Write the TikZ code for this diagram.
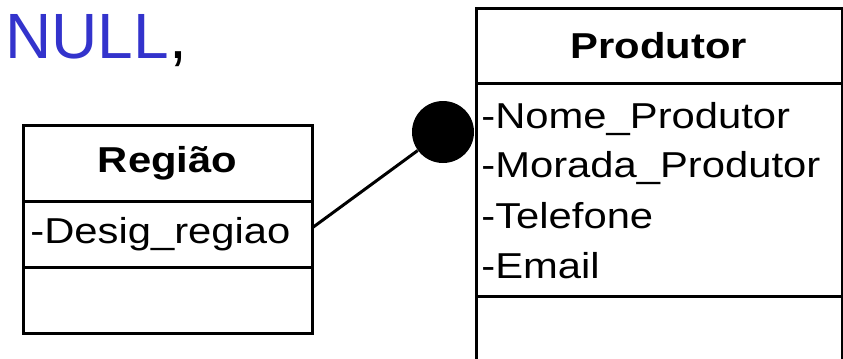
\documentclass[tikz,border=0pt]{standalone}
\usepackage{fontspec}
\setmainfont{Liberation Sans}
\newfontfamily\largafont[FakeStretch=1.16]{Liberation Sans}
\usepackage{xcolor}
\usetikzlibrary{positioning}
\definecolor{nullblue}{RGB}{51,51,204}

\begin{document}
\begin{tikzpicture}[x=0.5pt, y=-0.5pt,
    classe/.style={rectangle, draw=black, line width=1.5pt, outer sep=0pt,
      inner sep=0pt, font=\largafont\fontsize{18}{22}\selectfont\bfseries},
    compart/.style={rectangle, draw=black, line width=1.5pt, outer sep=0pt,
      inner sep=0pt},
    attr/.style={anchor=base west, inner sep=0pt,
      font=\largafont\fontsize{18}{22}\selectfont},
    line/.style={-, line width=1.5pt}
    ]
    \useasboundingbox (0,0) rectangle (843,359);

    % Texto
    \node[anchor=base west, inner sep=0pt, font=\fontsize{32}{36}\selectfont]
    (null) at (5,58) {\textcolor{nullblue}{NULL},};

    % Classe Regiao
    \node[classe, minimum width=144.5pt, minimum height=38pt] (Regiao)
    at (167.5,163) {Região};
    \node[compart, minimum width=144.5pt, minimum height=33pt,
      below=0pt of Regiao] (RegiaoAttr) {};
    \node[compart, minimum width=144.5pt, minimum height=33pt,
      below=0pt of RegiaoAttr] (RegiaoOps) {};

    \node[attr] (desig) at (30,243) {-Desig\_regiao};

    % Classe Produtor
    \node[classe, minimum width=183pt, minimum height=37.5pt] (Produtor)
    at (659,45.5) {Produtor};
    \node[compart, minimum width=183pt, minimum height=106.5pt,
      below=0pt of Produtor] (ProdutorAttr) {};
    \node[compart, minimum width=183pt, minimum height=45pt,
      below=0pt of ProdutorAttr] (ProdutorOps) {};

    \node[attr] (nome) at (481,128) {-Nome\_Produtor};
    \node[attr] (morada) at (481,177) {-Morada\_Produtor};
    \node[attr] (telefone) at (481,228) {-Telefone};
    \node[attr] (email) at (481,278) {-Email};

    % Ligacao
    \node[circle, fill=black, minimum size=31pt, inner sep=0pt] (dot)
    at (443,132) {};
    \draw[line] ([yshift=3pt]RegiaoAttr.east) -- (dot);

  \end{tikzpicture}
\end{document}
